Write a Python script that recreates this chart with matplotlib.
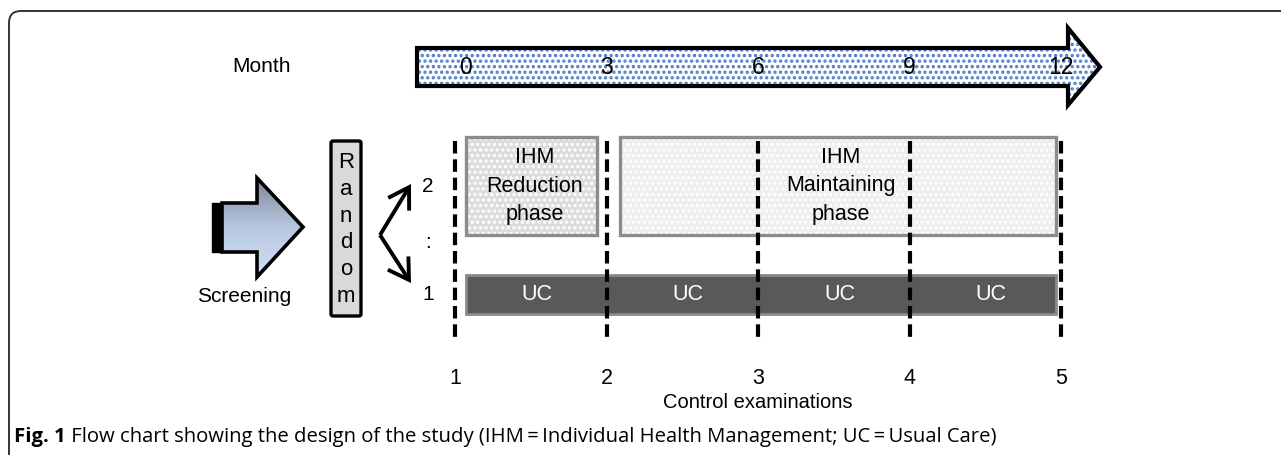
import matplotlib
matplotlib.use("Agg")
import matplotlib.pyplot as plt
import numpy as np
from matplotlib.patches import Polygon, Rectangle, FancyBboxPatch, FancyArrowPatch
from matplotlib.colors import LinearSegmentedColormap

plt.rcParams['font.family'] = ['Liberation Sans', 'DejaVu Sans']
plt.rcParams['hatch.linewidth'] = 1.6

# data
months = [0, 3, 6, 9, 12]
exam_labels = ['1', '2', '3', '4', '5']
uc_labels = ['UC', 'UC', 'UC', 'UC']
phase_labels = ['IHM\nReduction\nphase', 'IHM\nMaintaining\nphase']
phase_spans = [(0, 3), (3, 12)]
group_labels = ['2', ':', '1']
random_letters = list('Random')
caption_bold = 'Fig. 1'
caption_text = ('Flow chart showing the design of the study (IHM\u2009=\u2009Individual Health '
                'Management; UC\u2009=\u2009Usual Care)')

# month -> pixel scale
x0, x12 = 455, 1061
def px(m):
    return x0 + (x12 - x0) * m / 12.0

fig = plt.figure(figsize=(12.81, 4.55), dpi=100)
ax = fig.add_axes([0, 0, 1, 1])
ax.set_xlim(0, 1281)
ax.set_ylim(455, 0)
ax.axis('off')

# frame
frame = FancyBboxPatch((9, 11), 1400, 470, boxstyle="round,pad=0,rounding_size=12",
                       fc='none', ec='#333333', lw=1.4)
ax.add_patch(frame)

# month arrow
arr = [(417, 48), (1068, 48), (1068, 28), (1100, 67), (1068, 105), (1068, 86), (417, 86)]
ax.add_patch(Polygon(arr, closed=True, fc='white', ec='none'))
ax.add_patch(Polygon(arr, closed=True, fc='none', ec='#4a7cc0', hatch='...', lw=0))
ax.add_patch(Polygon(arr, closed=True, fc='none', ec='black', lw=3, joinstyle='miter'))
ax.text(262, 67, 'Month', fontsize=15, ha='center', va='center')
for i, m in enumerate(months):
    off = 11 if i == 0 else 0
    ax.text(px(m) + off, 67, str(m), fontsize=16.5, ha='center', va='center')

# screening arrow with gradient
scr = [(222, 203), (257, 203), (257, 178), (303, 227), (257, 277), (257, 252), (222, 252)]
grad = np.linspace(0, 1, 256).reshape(-1, 1)
cmap = LinearSegmentedColormap.from_list('g', ['#7f8795', '#b8c8e2', '#d2e0f4'])
im = ax.imshow(grad, extent=(222, 303, 277, 178), cmap=cmap, aspect='auto', zorder=1)
poly = Polygon(scr, closed=True, fc='none', ec='black', lw=2.6, zorder=2, joinstyle='miter')
ax.add_patch(poly)
im.set_clip_path(poly)
ax.add_patch(Rectangle((212, 203), 8, 49, fc='black', ec='black', lw=1, zorder=2))
ax.text(244, 296, 'Screening', fontsize=15, ha='center', va='center')

# random box
ax.add_patch(FancyBboxPatch((331, 141), 30, 175, boxstyle="round,pad=0,rounding_size=2",
                            fc='#d9d9d9', ec='black', lw=2.4))
ys = np.linspace(163, 296, len(random_letters))
for c, y in zip(random_letters, ys):
    ax.text(346, y, c, fontsize=16, ha='center', va='center')

# chevron arrows
for tip in [(411, 184), (411, 283)]:
    ax.add_patch(FancyArrowPatch((380, 235), tip, arrowstyle='->,head_length=9,head_width=5.5',
                                 mutation_scale=1.6, color='black', lw=2.8,
                                 shrinkA=0, shrinkB=0, joinstyle='miter', capstyle='butt'))
for lab, y in zip(group_labels, [186, 243, 295]):
    ax.text(428, y, lab, fontsize=15, ha='center', va='center')

# phase boxes
faces = ['#dcdcdc', '#eeeeee']
lefts = [466, 620]
rights = [597, 1056]
for (a, b), lab, fc, l, r in zip(phase_spans, phase_labels, faces, lefts, rights):
    ax.add_patch(Rectangle((l, 137), r - l, 98, fc=fc, ec='none'))
    ax.add_patch(Rectangle((l, 137), r - l, 98, fc='none', ec='white', hatch='...', lw=0))
    ax.add_patch(Rectangle((l, 137), r - l, 98, fc='none', ec='#8c8c8c', lw=2.4))
    ax.text((l + r) / 2 + 3, 186, lab, fontsize=15.5,
            ha='center', va='center', linespacing=1.45)

# usual care bar
ax.add_patch(Rectangle((466, 275), 590, 39, fc='#595959', ec='#8a8a8a', lw=2))
for i, lab in enumerate(uc_labels):
    cx = (px(months[i]) + px(months[i + 1])) / 2 + 6
    ax.text(cx, 295, lab, fontsize=15.5, color='white', ha='center', va='center')

# dashed exam lines
for m, lab in zip(months, exam_labels):
    ax.plot([px(m), px(m)], [141, 341], color='black', lw=3, linestyle=(0, (3.0, 1.4)),
            solid_capstyle='butt', zorder=5)
    ax.text(px(m), 378, lab, fontsize=15.5, ha='center', va='center')
ax.text(px(6), 402, 'Control examinations', fontsize=14.5, ha='center', va='center')

# caption
cap_font = ['Open Sans', 'DejaVu Sans']
t1 = ax.text(14, 437, caption_bold, fontsize=14.6, fontweight='bold', ha='left', va='center',
             family=cap_font)
ax.annotate(' ' + caption_text, xy=(1, 0.5), xycoords=t1, ha='left', va='center',
            fontsize=14.6, family=cap_font)

fig.savefig('out.png', dpi=100)
